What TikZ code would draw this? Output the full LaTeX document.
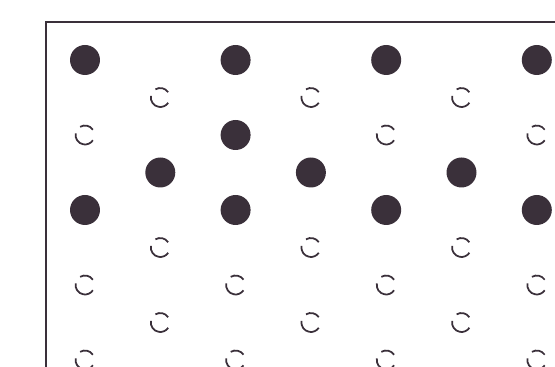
\documentclass[tikz,border=0pt]{standalone}
\usepackage{tikz}
\definecolor{dotgray}{RGB}{58,48,58}
\begin{document}
\begin{tikzpicture}[x=0.02cm,y=-0.02cm,
  atom/.style={fill=dotgray},
  hole/.style={draw=dotgray,line width=1pt}]
  \clip (0,0) rectangle (555,367);
  \draw[line width=1.3pt,draw=dotgray] (46,22) rectangle (620,420);
  % filled sites
  \foreach \c/\r in {0/0,2/0,4/0,6/0,2/2,1/3,3/3,5/3,0/4,2/4,4/4,6/4}
    \fill[atom] (85+75.3*\c,60+37.5*\r) circle[radius=0.3cm];
  % empty sites
  \foreach \c/\r in {1/1,3/1,5/1,0/2,4/2,6/2,1/5,3/5,5/5,0/6,2/6,4/6,6/6,
                     1/7,3/7,5/7,0/8,2/8,4/8,6/8} {
    \draw[hole] (85+75.3*\c,60+37.5*\r) ++(34:0.19cm)
      arc[start angle=34,end angle=121,radius=0.19cm];
    \draw[hole] (85+75.3*\c,60+37.5*\r) ++(170:0.19cm)
      arc[start angle=170,end angle=326,radius=0.19cm];
  }
\end{tikzpicture}
\end{document}
